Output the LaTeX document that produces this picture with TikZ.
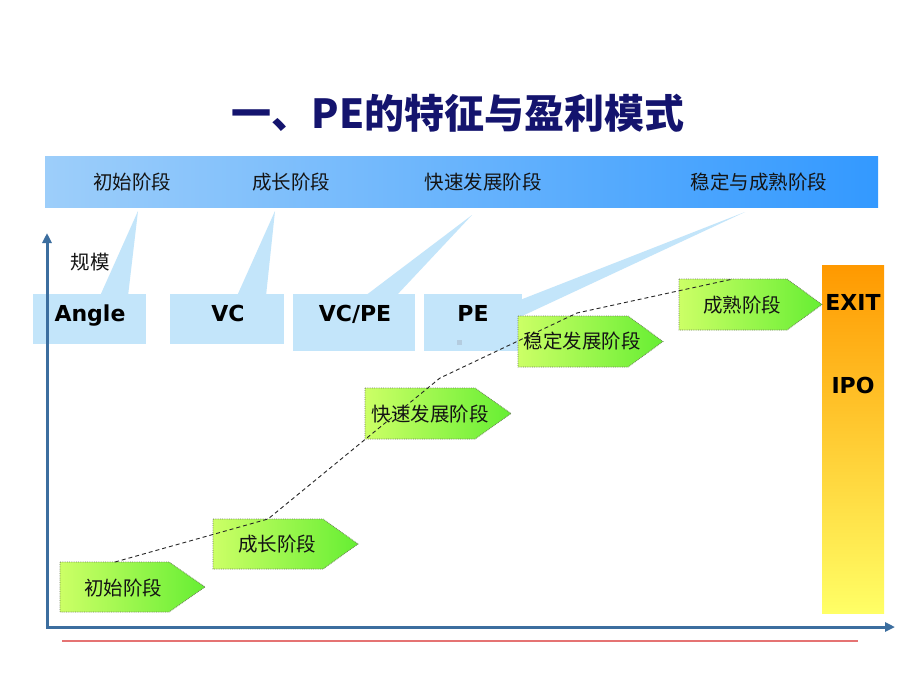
\documentclass[tikz,border=0pt]{standalone}
\usepackage{fontspec}
\newfontfamily\cjk{Noto Sans CJK SC}
\newfontfamily\verd{DejaVu Sans}
\usetikzlibrary{arrows.meta}
\definecolor{barL}{HTML}{9DCEFA}
\definecolor{barR}{HTML}{3399FF}
\definecolor{callc}{HTML}{C3E5FA}
\definecolor{axisc}{HTML}{3C6E9F}
\definecolor{titlec}{HTML}{14146E}
\definecolor{grL}{HTML}{CCFF66}
\definecolor{grR}{HTML}{66EE33}
\definecolor{orT}{HTML}{FF9900}
\definecolor{orB}{HTML}{FFFF66}
\definecolor{redl}{HTML}{E57373}
\definecolor{txt}{HTML}{141414}
\definecolor{dotc}{HTML}{6E7F5A}
\definecolor{pesq}{HTML}{B4CCDF}
\tikzset{
  titletext/.style={font=\cjk\bfseries\fontsize{40}{44}\selectfont, text=titlec, inner sep=0},
  bartext/.style={font=\cjk\fontsize{19.5}{22}\selectfont, text=txt, inner sep=0},
  callbox/.style={fill=callc, draw=none, inner sep=0},
  calltail/.style={fill=callc, draw=none},
  calltext/.style={font=\verd\bfseries\fontsize{22}{26}\selectfont, text=black, inner sep=0, text height=16pt, text depth=0pt},
  stagebox/.style={left color=grL, right color=grR, draw=dotc, densely dotted, line width=0.8pt},
  stagetext/.style={font=\cjk\fontsize{19.5}{22}\selectfont, text=txt, inner sep=0},
  trend/.style={draw=black!85, line width=0.9pt, dash pattern=on 4pt off 3pt},
  axis/.style={draw=axisc, line width=3pt},
  exittext/.style={font=\verd\bfseries\fontsize{22}{26}\selectfont, text=black, inner sep=0, text height=16pt, text depth=0pt},
}
\begin{document}
\begin{tikzpicture}[x=1pt,y=-1pt]
\useasboundingbox (0,0) rectangle (920,690);
\fill[white] (0,0) rectangle (920,690);

% title
\node[titletext] (title) at (458,113) {一、PE的特征与盈利模式};

% top bar
\node[left color=barL, right color=barR, draw=none, minimum width=833pt, minimum height=51pt, inner sep=0] (bar) at (461.5,181.5) {};
\node[bartext] (s1) at (132,182) {初始阶段};
\node[bartext] (s2) at (291,182) {成长阶段};
\node[bartext] (s3) at (483,182) {快速发展阶段};
\node[bartext] (s4) at (759,182) {稳定与成熟阶段};

% callout tails
\fill[calltail] (100,296) -- (138,211) -- (128,296) -- cycle;
\fill[calltail] (237,296) -- (275,211) -- (266,296) -- cycle;
\fill[calltail] (365,296) -- (472,215) -- (396,296) -- cycle;
\fill[calltail] (520,300) -- (745,212) -- (520,317) -- cycle;

% callout boxes
\node[callbox, minimum width=113pt, minimum height=50pt] (angle) at (89.5,319) {};
\node[callbox, minimum width=114pt, minimum height=50pt] (vc) at (227,319) {};
\node[callbox, minimum width=122pt, minimum height=57pt] (vcpe) at (354,322.5) {};
\node[callbox, minimum width=98pt, minimum height=57pt] (pe) at (473,322.5) {};
\fill[pesq] (456.5,339.5) rectangle (462,345);
\node[calltext] (angleT) at (90,313.5) {Angle};
\node[calltext] (vcT) at (228,313.5) {VC};
\node[calltext] (vcpeT) at (355,313.5) {VC/PE};
\node[calltext] (peT) at (473,313.5) {PE};

% axes
\coordinate (O) at (47,627);
\coordinate (Ytop) at (47,233);
\coordinate (Xend) at (895,627);
\draw[axis, line join=miter, {Triangle[length=10pt,width=9pt]}-{Triangle[length=10pt,width=9pt]}] (Ytop) -- (O) -- (Xend);
\node[bartext] (scale) at (90,262) {规模};

% red line
\coordinate (R1) at (62,641);
\coordinate (R2) at (858,641);
\draw[redl, line width=1.2pt] (R1) -- (R2);

% exit bar
\node[top color=orT, bottom color=orB, draw=none, minimum width=62pt, minimum height=348pt, inner sep=0] (exit) at (853,439) {};
\node[exittext] (exitT) at (853,302) {EXIT};
\node[exittext] (ipoT) at (853,385) {IPO};

% stage arrows
\path[stagebox] (60,562) -- (169,562) -- (205,587) -- (169,612) -- (60,612) -- cycle;
\path[stagebox] (213,519) -- (323,519) -- (358,544) -- (323,569) -- (213,569) -- cycle;
\path[stagebox] (365,388) -- (475,388) -- (511,413.5) -- (475,439) -- (365,439) -- cycle;
\path[stagebox] (518,316) -- (628,316) -- (663,341.5) -- (628,367) -- (518,367) -- cycle;
\path[stagebox] (679,279) -- (787,279) -- (822,304.5) -- (787,330) -- (679,330) -- cycle;
\coordinate (t1) at (115,562);
\coordinate (t2) at (268,519);
\coordinate (t3) at (440,378);
\coordinate (t4) at (577,313);
\coordinate (t5) at (733,279);
\draw[trend] (t1) -- (t2) -- (t3) -- (t4) -- (t5);
\node[stagetext] (a1) at (123,588) {初始阶段};
\node[stagetext] (a2) at (277,544) {成长阶段};
\node[stagetext] (a3) at (430,414) {快速发展阶段};
\node[stagetext] (a4) at (582,341) {稳定发展阶段};
\node[stagetext] (a5) at (742,305) {成熟阶段};
\end{tikzpicture}
\end{document}
